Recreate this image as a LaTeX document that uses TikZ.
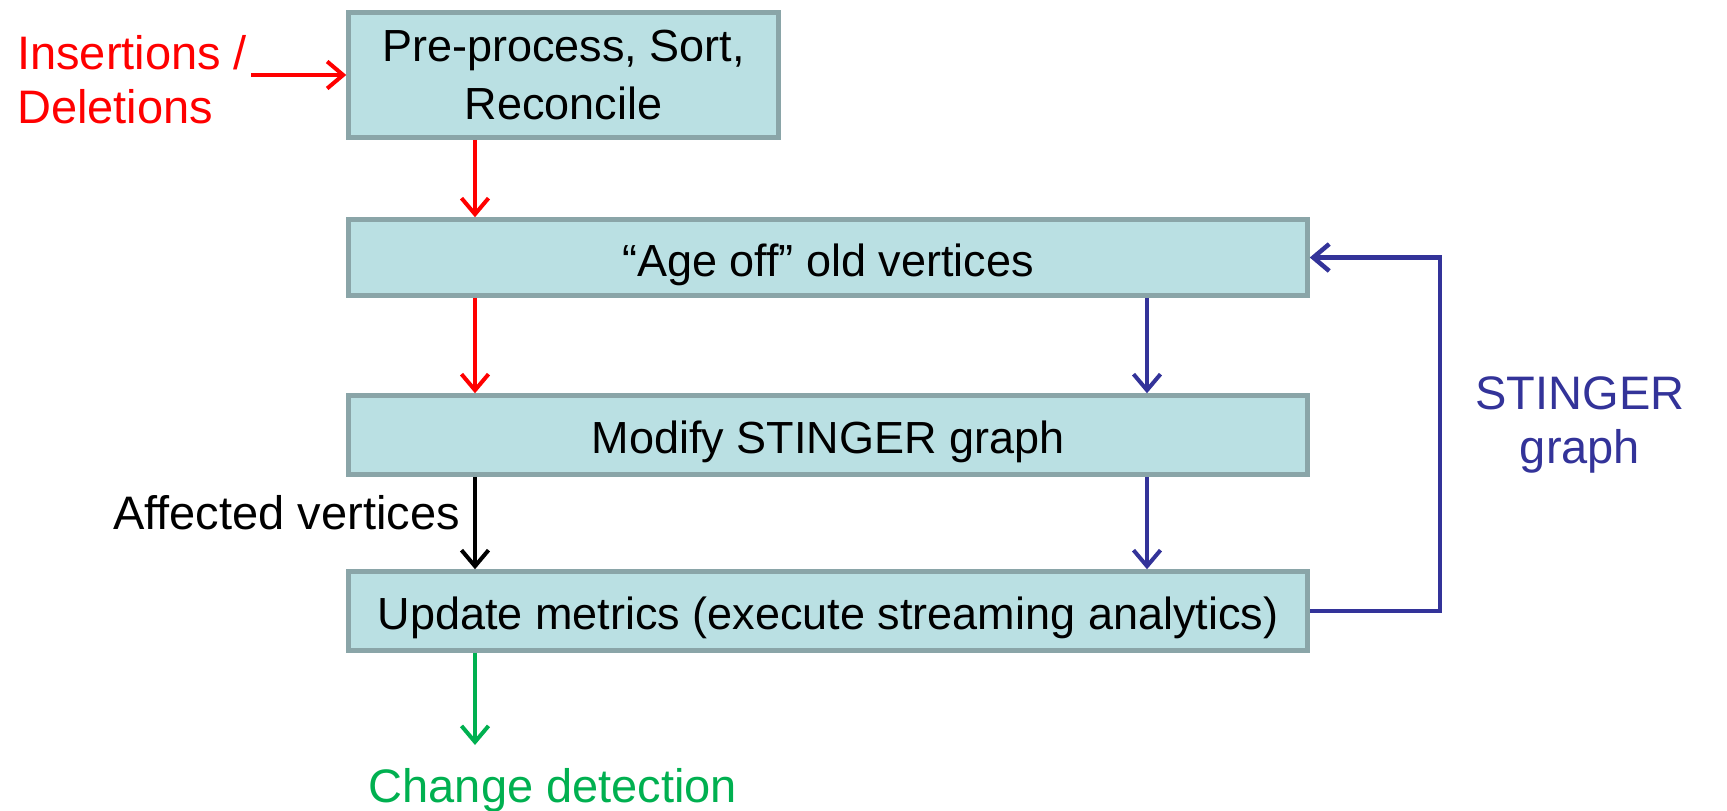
\documentclass[tikz,border=0pt]{standalone}
\usepackage{fontspec}
\setmainfont{Liberation Sans}
\usetikzlibrary{arrows.meta}
\definecolor{boxfill}{RGB}{186,224,227}
\definecolor{boxline}{RGB}{138,165,168}
\definecolor{cred}{RGB}{255,0,0}
\definecolor{cblue}{RGB}{51,51,153}
\definecolor{cgreen}{RGB}{0,176,80}
\tikzset{
  procbox/.style={draw=boxline, fill=boxfill, line width=4.5pt, inner sep=0pt, align=center, font=\fontsize{45}{58}\selectfont},
  onebox/.style={procbox, text height=38pt, text depth=1pt},
  lbl/.style={inner sep=0pt, font=\fontsize{47}{54}\selectfont},
  flow/.style={line width=4pt, -{Straight Barb[length=16pt,width=27pt]}},
}
\begin{document}
\begin{tikzpicture}[x=1pt,y=-1pt]
\useasboundingbox (0,0) rectangle (1727,811);
\node[procbox, minimum width=430pt, minimum height=125pt] (pre) at (563.5,75) {Pre-process, Sort,\\Reconcile};
\node[onebox, minimum width=959pt, minimum height=76pt] (age) at (828,257.5) {“Age off” old vertices};
\node[onebox, minimum width=959pt, minimum height=79pt] (mod) at (828,435) {Modify STINGER graph};
\node[onebox, minimum width=959pt, minimum height=79pt] (upd) at (828,611) {Update metrics (execute streaming analytics)};

\coordinate (lx) at (475,0);
\coordinate (rx) at (1147,0);
\coordinate (fbx) at (1440,0);
\coordinate (insend) at (251,75);
\coordinate (gend) at (475,745);

\node[lbl, text=cred, align=left, anchor=west] (ins) at (17,80) {Insertions /\\Deletions};
\node[lbl, anchor=base east] (aff) at (460,529) {Affected vertices};
\node[lbl, text=cblue, align=center] (sg) at (1580,424.5) {STINGER\\graph};
\node[lbl, text=cgreen, anchor=base] (chg) at (553,802) {Change detection};

\draw[flow, cred] (insend) -- (insend -| pre.west);
\draw[flow, cred] (pre.south -| lx) -- (age.north -| lx);
\draw[flow, cred] (age.south -| lx) -- (mod.north -| lx);
\draw[flow, cblue] (age.south -| rx) -- (mod.north -| rx);
\draw[flow, cblue] (mod.south -| rx) -- (upd.north -| rx);
\draw[flow, black] (mod.south -| lx) -- (upd.north -| lx);
\draw[flow, cgreen] (upd.south -| lx) -- (gend);
\draw[flow, cblue, line width=4.5pt] (upd.east) -- (upd.east -| fbx) -- (age.east -| fbx) -- (age.east);
\end{tikzpicture}
\end{document}
